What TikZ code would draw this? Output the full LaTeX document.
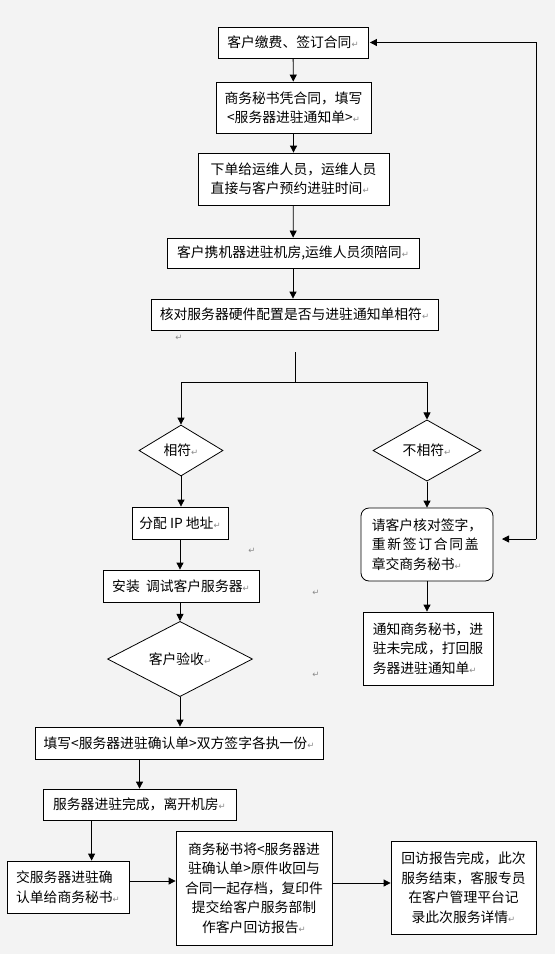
\documentclass[tikz,border=0pt]{standalone}
\usepackage{fontspec}
\setmainfont{Noto Sans CJK SC}
\newfontfamily\retfont{DejaVu Sans}
\usetikzlibrary{shapes.geometric,arrows.meta}
\definecolor{bggrey}{HTML}{F3F3F3}
\definecolor{retgrey}{HTML}{8A8A8A}
\newcommand\retmark{{\retfont\fontsize{8.5pt}{8.5pt}\selectfont\color{retgrey}↵}}
\tikzset{
  box/.style={draw=black, line width=0.8pt, fill=white, inner sep=0pt, font=\fontsize{13.8pt}{19.5pt}\selectfont},
  rbox/.style={box, rounded corners=8pt},
  dia/.style={draw=black, line width=0.8pt, fill=white, diamond, inner sep=0pt, font=\fontsize{13.8pt}{19pt}\selectfont},
  arr/.style={draw=black, line width=0.8pt, -{Triangle[length=7pt,width=7pt]}},
  ln/.style={draw=black, line width=0.8pt},
  stray/.style={inner sep=0pt}
}
\begin{document}
\begin{tikzpicture}[x=1pt,y=-1pt]
\fill[bggrey] (0,0) rectangle (555,954);
\useasboundingbox (0,0) rectangle (555,954);

% main column
\node[box, minimum width=150pt, minimum height=31pt] (b1) at (293,42.5) {客户缴费、签订合同\retmark};
\node[box, minimum width=155pt, minimum height=51pt, align=center] (b2) at (293.5,107.5) {商务秘书凭合同，填写\\<服务器进驻通知单>\retmark};
\node[box, minimum width=191pt, minimum height=52pt, align=left] (b3) at (293.5,179) {下单给运维人员，运维人员\\直接与客户预约进驻时间\retmark};
\node[box, minimum width=252pt, minimum height=30pt] (b4) at (293,253) {客户携机器进驻机房,运维人员须陪同\retmark};
\node[box, minimum width=287pt, minimum height=31pt] (b5) at (294.5,314.5) {核对服务器硬件配置是否与进驻通知单相符\retmark};
\node[stray] (m0) at (179,338) {\retmark};

\coordinate (split0) at (295,352);
\coordinate (split1) at (295,382);

\node[dia, minimum width=84pt, minimum height=51pt] (d1) at (181,450.5) {相符\retmark};
\node[dia, minimum width=108pt, minimum height=51pt] (d2) at (427,450.5) {不相符\retmark};

\node[box, minimum width=96pt, minimum height=32pt] (b6) at (180,523) {分配 IP 地址\retmark};
\node[box, minimum width=156pt, minimum height=32pt] (b7) at (181,586) {安装\ \ 调试客户服务器\retmark};
\node[dia, minimum width=145pt, minimum height=52pt] (d3) at (180,659) {客户验收\retmark};
\node[stray] (m1) at (252,551) {\retmark};
\node[stray] (m2) at (316,593) {\retmark};
\node[stray] (m3) at (316,675) {\retmark};

\node[box, minimum width=288pt, minimum height=32pt] (b8) at (179,743) {填写<服务器进驻确认单>双方签字各执一份\retmark};
\node[box, minimum width=193pt, minimum height=31pt] (b9) at (139.5,804.5) {服务器进驻完成，离开机房\retmark};
\node[box, minimum width=122pt, minimum height=52pt, align=left] (b10) at (68,887) {交服务器进驻确\\认单给商务秘书\retmark};
\node[box, minimum width=156pt, minimum height=114pt, align=center] (b11) at (254,888) {商务秘书将<服务器进\\驻确认单>原件收回与\\合同一起存档，复印件\\提交给客户服务部制\\作客户回访报告\retmark};
\node[box, minimum width=145pt, minimum height=93pt, align=center] (b12) at (463.5,887.5) {回访报告完成，此次\\服务结束，客服专员\\在客户管理平台记\\录此次服务详情\retmark};

% right branch
\node[rbox, minimum width=132pt, minimum height=73pt, align=left] (r1) at (427,544.5) {请客户核对签字，\\\makebox[107pt][s]{重\hfill 新\hfill 签\hfill 订\hfill 合\hfill 同\hfill 盖}\\章交商务秘书\retmark};
\node[box, minimum width=130pt, minimum height=73pt, align=left] (r2) at (428,648.5) {通知商务秘书，进\\驻未完成，打回服\\务器进驻通知单\retmark};

\coordinate (fbtip) at (502,539);
\coordinate (fbc1) at (536,539);
\coordinate (fbc2) at (536,42.5);

% connectors
\draw[arr] (b1) -- (b2);
\draw[arr] (b2) -- (b3);
\draw[arr] (b3) -- (b4);
\draw[arr] (b4.south) -- (b4.south |- b5.north);
\draw[ln] (split0) -- (split1);
\draw[arr] (split1) -| (d1.north);
\draw[arr] (split1) -| (d2.north);
\draw[arr] (d1.south) -- (d1.south |- b6.north);
\draw[arr] (b6.south) -- (b6.south |- b7.north);
\draw[arr] (b6.south |- b7.south) -- (d3.north);
\draw[arr] (d3.south) -- (d3.south |- b8.north);
\draw[arr] (b8.south -| b9.north) -- (b9.north);
\draw[arr] ([xshift=49pt]b9.south west) -- ([xshift=49pt]b9.south west |- b10.north);
\draw[arr] ([yshift=6pt]b10.east) -- ([yshift=6pt]b10.east -| b11.west);
\draw[arr] ([yshift=5pt]b11.east) -- ([yshift=5pt]b11.east -| b12.west);
\draw[arr] (d2.south) -- (d2.south |- r1.north);
\draw[arr] (r1.south) -- (r1.south |- r2.north);
\draw[arr] (fbc1) -- (fbtip);
\draw[arr] (fbc1) -- (fbc2) -- ([xshift=1.5pt]b1.east);
\end{tikzpicture}
\end{document}
